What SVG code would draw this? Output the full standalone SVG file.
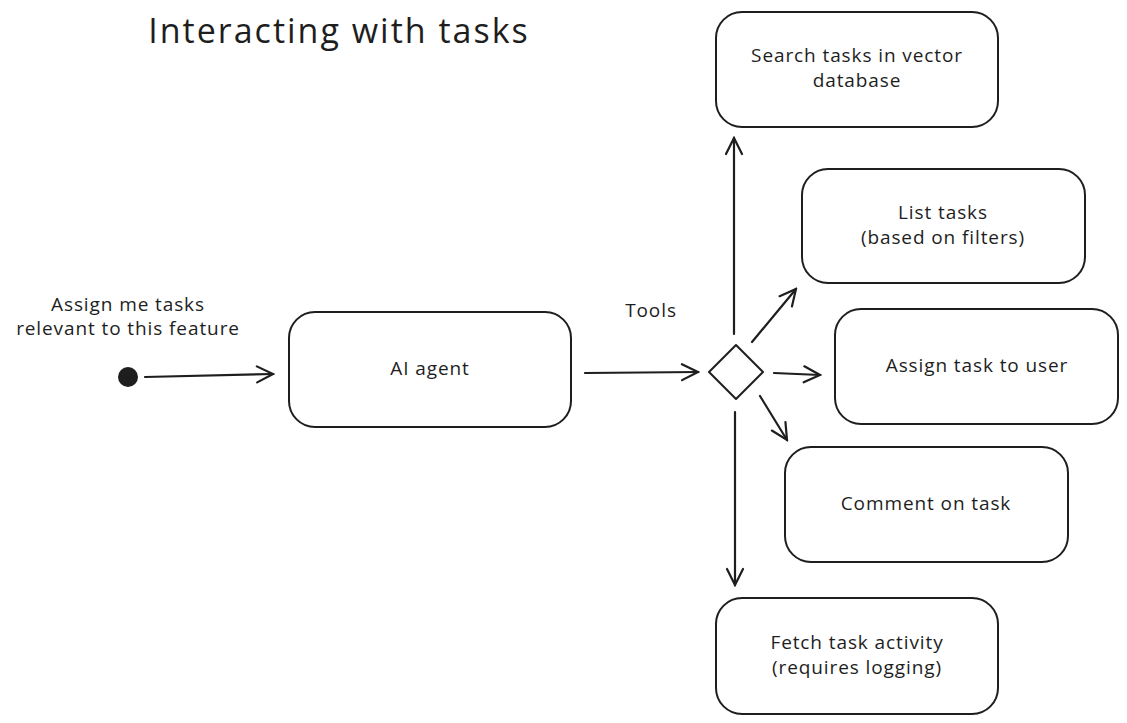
<svg xmlns="http://www.w3.org/2000/svg" width="1127" height="723" viewBox="0 0 1127 723">
<style>
.box{fill:#fff;stroke:#1e1e1e;stroke-width:2}
.t{font-family:"Open Sans","Liberation Sans",sans-serif;font-size:19px;letter-spacing:0.9px;fill:#1e1e1e;text-anchor:middle}
.c{stroke:#1e1e1e;stroke-width:2.2;fill:none;stroke-linecap:round}
</style>
<defs>
<marker id="ah" viewBox="0 0 20 20" refX="18" refY="10" markerWidth="20" markerHeight="20" markerUnits="userSpaceOnUse" orient="auto">
<path d="M2 2 L18 10 L2 18" fill="none" stroke="#1e1e1e" stroke-width="2.2" stroke-linecap="round"/>
</marker>
</defs>
<rect width="1127" height="723" fill="#fff"/>
<text x="339" y="43" style="font-family:'Open Sans','Liberation Sans',sans-serif;font-size:34px;letter-spacing:2px;fill:#1e1e1e;text-anchor:middle">Interacting with tasks</text>
<g id="start">
<circle cx="128" cy="377" r="10" fill="#1e1e1e"/>
<text class="t" x="128" y="311">Assign me tasks</text>
<text class="t" x="128" y="335">relevant to this feature</text>
</g>
<g id="agent"><rect class="box" x="289" y="312" width="282" height="115" rx="26"/><text class="t" x="430" y="375">AI agent</text></g>
<g id="decision"><path d="M736 345 L763 372 L736 399 L709 372 Z" class="box" stroke-linejoin="round"/></g>
<g id="search"><rect class="box" x="716" y="12" width="282" height="115" rx="26"/><text class="t" x="857" y="62">Search tasks in vector</text><text class="t" x="857" y="87">database</text></g>
<g id="list"><rect class="box" x="802" y="169" width="283" height="114" rx="26"/><text class="t" x="943" y="219">List tasks</text><text class="t" x="943" y="244">(based on filters)</text></g>
<g id="assign"><rect class="box" x="835" y="309" width="283" height="115" rx="26"/><text class="t" x="977" y="372">Assign task to user</text></g>
<g id="comment"><rect class="box" x="785" y="447" width="283" height="115" rx="26"/><text class="t" x="926" y="510">Comment on task</text></g>
<g id="fetch"><rect class="box" x="716" y="598" width="282" height="116" rx="26"/><text class="t" x="857" y="649">Fetch task activity</text><text class="t" x="857" y="674">(requires logging)</text></g>
<g id="connectors">
<line class="c" x1="145" y1="377" x2="273" y2="374" marker-end="url(#ah)"/>
<line class="c" x1="585" y1="373" x2="698" y2="372" marker-end="url(#ah)"/>
<line class="c" x1="734" y1="334" x2="734" y2="138" marker-end="url(#ah)"/>
<line class="c" x1="752" y1="342" x2="796" y2="289" marker-end="url(#ah)"/>
<line class="c" x1="774" y1="373" x2="820" y2="375" marker-end="url(#ah)"/>
<line class="c" x1="760" y1="396" x2="787" y2="440" marker-end="url(#ah)"/>
<line class="c" x1="735" y1="412" x2="735" y2="585" marker-end="url(#ah)"/>
<text class="t" x="651" y="317">Tools</text>
</g>
</svg>
